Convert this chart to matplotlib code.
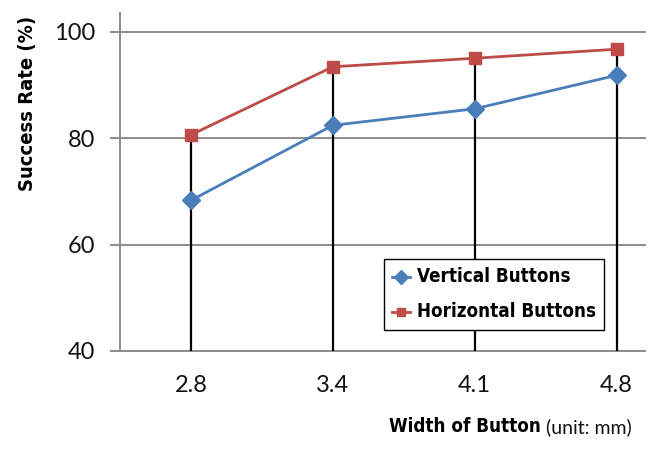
import matplotlib.pyplot as plt
from matplotlib.font_manager import FontProperties

widths = ["2.8", "3.4", "4.1", "4.8"]
vertical = [68.3, 82.4, 85.5, 91.8]
horizontal = [80.6, 93.4, 95.0, 96.7]

blue = "#4A7EBB"
red = "#BE4B48"
grid_col = "#8C8C8C"

bold = FontProperties(family=["Liberation Sans Narrow", "DejaVu Sans"], weight="bold",
                      stretch="condensed")
light = FontProperties(family=["Lato", "DejaVu Sans"], weight="normal")

fig = plt.figure(figsize=(6.7, 4.71), dpi=100)
ax = fig.add_axes([120 / 670, 1 - 351 / 471, 525 / 670, 338 / 471])

x = list(range(len(widths)))

# drop lines from top point down to the floor
tops = [max(a, b) for a, b in zip(vertical, horizontal)]
ax.vlines(x, 40, tops, color="black", lw=1.6, zorder=2)

ax.plot(x, vertical, color=blue, lw=2, marker="D", ms=9, mec=blue, mfc=blue,
        label="Vertical Buttons", zorder=3)
ax.plot(x, horizontal, color=red, lw=2, marker="s", ms=8, mec=red, mfc=red,
        label="Horizontal Buttons", zorder=3)

ax.set_xlim(-0.5, 3.2)
ax.set_ylim(40, 103.5)
ax.set_yticks([40, 60, 80, 100])
ax.set_xticks(x)
ax.set_xticklabels(widths)

for yv in [40, 60, 80, 100]:
    ax.axhline(yv, color=grid_col, lw=1.4, zorder=1, clip_on=False)

for s in ["top", "right", "bottom"]:
    ax.spines[s].set_visible(False)
ax.spines["left"].set_color(grid_col)
ax.spines["left"].set_linewidth(1.4)

ax.tick_params(axis="y", length=7, width=1.4, color=grid_col, pad=11)
ax.tick_params(axis="x", length=0, pad=17)
for lab in ax.get_xticklabels() + ax.get_yticklabels():
    lab.set_fontproperties(light)
    lab.set_fontsize(17)
    lab.set_color("#111111")

fig.text(28 / 670, 1 - 103 / 471, "Success Rate (%)", rotation=90, ha="center", va="center",
         fontproperties=bold, fontsize=14.5)

t2 = fig.text(632 / 670, 1 - 427 / 471, "(unit: mm)", ha="right", va="center",
              fontproperties=light, fontsize=14, color="#111111")
fig.canvas.draw()
bb = t2.get_window_extent()
fig.text(bb.x0 / 670 - 0.008, 1 - 427 / 471, "Width of Button", ha="right", va="center",
         fontproperties=bold, fontsize=13.5)

leg = ax.legend(loc="upper left", bbox_to_anchor=(384 / 670, 1 - 259 / 471),
                bbox_transform=fig.transFigure, borderaxespad=0, fancybox=False,
                edgecolor="black", framealpha=1, prop=bold.copy(),
                handlelength=1.3, handletextpad=0.45, borderpad=0.6,
                labelspacing=1.15, markerscale=0.8, handleheight=0.9)
leg.get_frame().set_linewidth(1.0)
for txt in leg.get_texts():
    txt.set_fontsize(13.5)

fig.savefig("out.png", dpi=100)
